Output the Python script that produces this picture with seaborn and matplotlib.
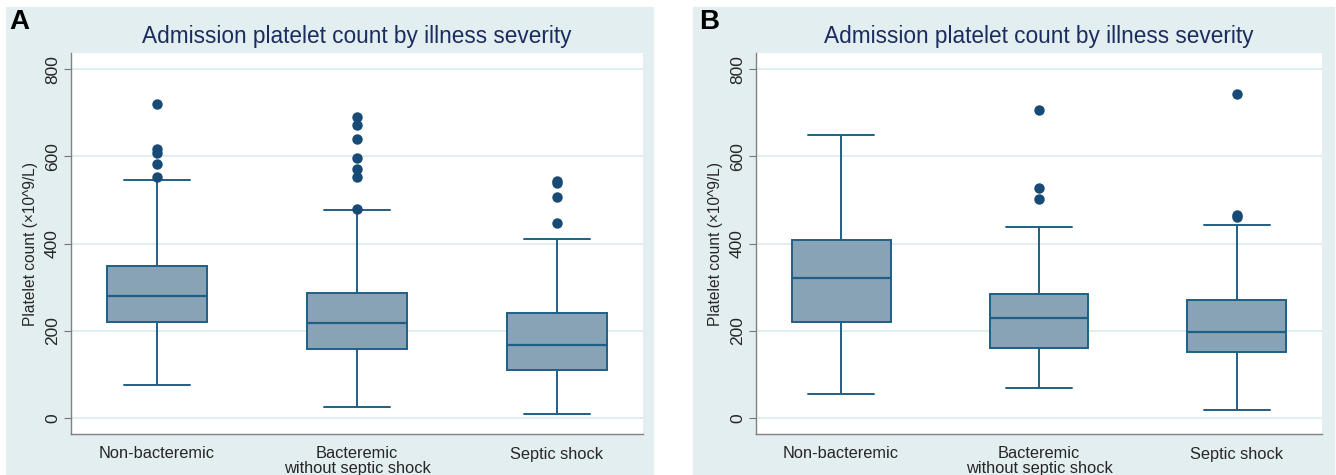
import numpy as np
import pandas as pd
import seaborn as sns
import matplotlib.pyplot as plt
from matplotlib.patches import Rectangle

# categories
groups = ["Non-bacteremic", "Bacteremic\nwithout septic shock", "Septic shock"]

# panel A : five-number summary
A_low = [76, 24, 8]
A_q1 = [219, 159, 110]
A_med = [280, 218, 167]
A_q3 = [349, 286, 240]
A_high = [545, 476, 410]
A_out = [[720, 616, 608, 582, 552],
         [690, 672, 639, 595, 572, 553, 478],
         [544, 539, 507, 448]]

# panel B
B_low = [55, 68, 17]
B_q1 = [219, 160, 152]
B_med = [322, 229, 196]
B_q3 = [407, 285, 271]
B_high = [650, 437, 443]
B_out = [[],
         [706, 528, 502],
         [743, 465, 460]]

title = "Admission platelet count by illness severity"
ylabel = "Platelet count (\u00d710^9/L)"

BG = "#e3eef1"
FACE = "#88a2b6"
EDGE = "#1f5f86"
DOT = "#174a74"
TITLE_C = "#1b2c5e"
GRID_C = "#e2edf0"


def summary_frame(low, q1, med, q3, high):
    rows = []
    for g, vals in zip(groups, zip(low, q1, med, q3, high)):
        for v in vals:
            rows.append({"group": g, "value": v})
    return pd.DataFrame(rows)


def outlier_frame(out):
    rows = []
    for g, vals in zip(groups, out):
        for v in vals:
            rows.append({"group": g, "value": v})
    return pd.DataFrame(rows, columns=["group", "value"])


sns.set_theme(style="white")
plt.rcParams["font.family"] = ["Liberation Sans", "DejaVu Sans"]

fig = plt.figure(figsize=(13.36, 4.75), dpi=100, facecolor="white")
W, H = 1336.0, 475.0

# grey-blue panel backgrounds
fig.patches.append(Rectangle((6 / W, 0), (653 - 6) / W, (475 - 7) / H,
                             transform=fig.transFigure, color=BG, zorder=-5))
fig.patches.append(Rectangle((693 / W, 0), (1334 - 693) / W, (475 - 7) / H,
                             transform=fig.transFigure, color=BG, zorder=-5))

panels = [
    ("A", (71, 643), (A_low, A_q1, A_med, A_q3, A_high), A_out, 9),
    ("B", (756, 1322), (B_low, B_q1, B_med, B_q3, B_high), B_out, 699),
]

for letter, (x0, x1), stats, out, lx in panels:
    ax = fig.add_axes([x0 / W, (H - 434) / H, (x1 - x0) / W, (434 - 53) / H])
    ax.set_zorder(1)
    ax.set_facecolor("white")

    box_df = summary_frame(*stats)
    sns.boxplot(data=box_df, x="group", y="value", order=groups, ax=ax,
                whis=(0, 100), width=0.5, color=FACE, fill=True,
                linewidth=1.4, linecolor=EDGE, capwidths=0.33,
                boxprops=dict(facecolor=FACE, edgecolor=EDGE),
                medianprops=dict(color=EDGE, linewidth=1.6),
                showfliers=False)

    out_df = outlier_frame(out)
    sns.stripplot(data=out_df, x="group", y="value", order=groups, ax=ax,
                  jitter=False, color=DOT, size=7.5, linewidth=0, zorder=3)

    ax.set_xlim(-0.43, 2.43)
    ax.set_ylim(-37, 837)
    ax.set_yticks([0, 200, 400, 600, 800])
    ax.set_yticklabels(["0", "200", "400", "600", "800"], rotation=90,
                       va="center", fontsize=12.5)
    ax.set_xticks(range(len(groups)))
    ax.set_xticklabels(groups, fontsize=11.8, linespacing=1.0)
    ax.yaxis.grid(True, color=GRID_C, linewidth=1.5)
    ax.set_axisbelow(True)
    ax.set_xlabel("")
    ax.set_ylabel(ylabel, fontsize=11.2, labelpad=5)
    ax.tick_params(axis="y", length=5, width=0.8, color="#777777",
                   left=True, pad=3)
    ax.tick_params(axis="x", length=0, pad=9)
    sns.despine(ax=ax, top=True, right=True)
    for side in ("left", "bottom"):
        ax.spines[side].set_color("#808080")
        ax.spines[side].set_linewidth(1.0)
    ax.set_title(title, fontsize=16.3, color=TITLE_C, pad=7)

    fig.text(lx / W, 1 - 9 / H, letter, fontsize=20, fontweight="bold",
             color="black", ha="left", va="top", zorder=5)

fig.savefig("out.png", dpi=100, facecolor=fig.get_facecolor())
